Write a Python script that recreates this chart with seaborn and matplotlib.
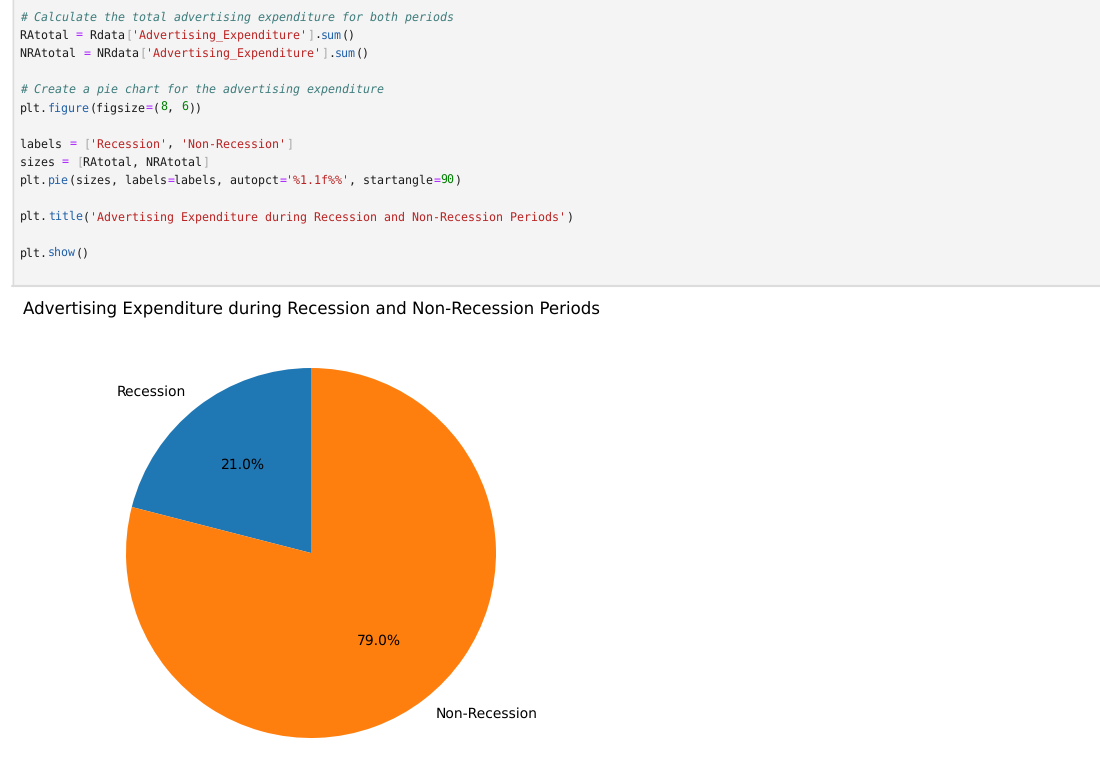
import matplotlib
matplotlib.use("Agg")
import matplotlib.pyplot as plt
import seaborn as sns

# --- data ---
labels = ['Recession', 'Non-Recession']
shares = [21.0, 79.0]
chart_title = 'Advertising Expenditure during Recession and Non-Recession Periods'

# --- code cell shown above the chart (text, style) ---
code_lines = [
    [("# Calculate the total advertising expenditure for both periods", "c")],
    [("RAtotal ", ""), ("=", "o"), (" Rdata", ""), ("[", "b"), ("'Advertising_Expenditure'", "s"),
     ("]", "b"), (".", ""), ("sum", "f"), ("()", "")],
    [("NRAtotal ", ""), ("=", "o"), (" NRdata", ""), ("[", "b"), ("'Advertising_Expenditure'", "s"),
     ("]", "b"), (".", ""), ("sum", "f"), ("()", "")],
    [],
    [("# Create a pie chart for the advertising expenditure", "c")],
    [("plt.", ""), ("figure", "f"), ("(figsize", ""), ("=", "o"), ("(", ""), ("8", "n"), (", ", ""),
     ("6", "n"), ("))", "")],
    [],
    [("labels ", ""), ("=", "o"), (" ", ""), ("[", "b"), ("'Recession'", "s"), (", ", ""),
     ("'Non-Recession'", "s"), ("]", "b")],
    [("sizes ", ""), ("=", "o"), (" ", ""), ("[", "b"), ("RAtotal, NRAtotal", ""), ("]", "b")],
    [("plt.", ""), ("pie", "f"), ("(sizes, labels", ""), ("=", "o"), ("labels, autopct", ""), ("=", "o"),
     ("'%1.1f%%'", "s"), (", startangle", ""), ("=", "o"), ("90", "n"), (")", "")],
    [],
    [("plt.", ""), ("title", "f"), ("(", ""), ("'" + chart_title + "'", "s"), (")", "")],
    [],
    [("plt.", ""), ("show", "f"), ("()", "")],
]

code_colors = {"": "#1a1a1a", "c": "#3d7b7b", "s": "#ba2121", "f": "#1f5fa8",
               "o": "#aa22ff", "b": "#a8a8a8", "n": "#008000"}

sns.set_style("white")
plt.rcParams["text.color"] = "black"
# unhinted glyph advances, so the monospace grid below is exact
plt.rcParams["text.hinting"] = "no_hinting"
W, H = 1100, 767
fig = plt.figure(figsize=(W / 100, H / 100), dpi=100)
fig.patch.set_facecolor("white")


def px(x, y):
    return x / W, 1 - y / H


# code cell background and borders
cell = plt.Rectangle(px(12, 285), (W - 12) / W, 285 / H, transform=fig.transFigure,
                     facecolor="#f4f4f4", edgecolor="none", zorder=0)
fig.patches.append(cell)
fig.add_artist(plt.Line2D([12 / W, 1], [1 - 285.5 / H] * 2, color="#dcdcdc", lw=1.5))
fig.add_artist(plt.Line2D([12.5 / W] * 2, [1 - 285.5 / H, 1], color="#dcdcdc", lw=1))

# tokens sit on a fixed monospace grid (DejaVu Sans Mono advance = 0.602 em)
char_w = 7.0
code_size = char_w / 0.602 * 72 / 100
for i, line in enumerate(code_lines):
    y = 17 + i * 18.15
    col = 0
    for txt, kind in line:
        fig.text(*px(20 + col * char_w, y), txt, family="DejaVu Sans Mono", fontsize=code_size,
                 color=code_colors[kind], style="italic" if kind == "c" else "normal",
                 va="center", ha="left")
        col += len(txt)

# pie chart
colors = sns.color_palette("tab10")[:2]
cx, cy, r = 311, 553, 185
ax = fig.add_axes([(cx - r) / W, (H - cy - r) / H, 2 * r / W, 2 * r / H])
ax.pie(shares, labels=labels, autopct='%1.1f%%', startangle=90, colors=colors,
       wedgeprops={"linewidth": 0}, textprops={"fontsize": 10, "color": "black"})
ax.set_xlim(-1, 1)
ax.set_ylim(-1, 1)
ax.set_aspect("equal")
ax.set_title(chart_title, fontsize=12, pad=38.9, color="black")

fig.savefig("out.png", dpi=100, facecolor="white")
